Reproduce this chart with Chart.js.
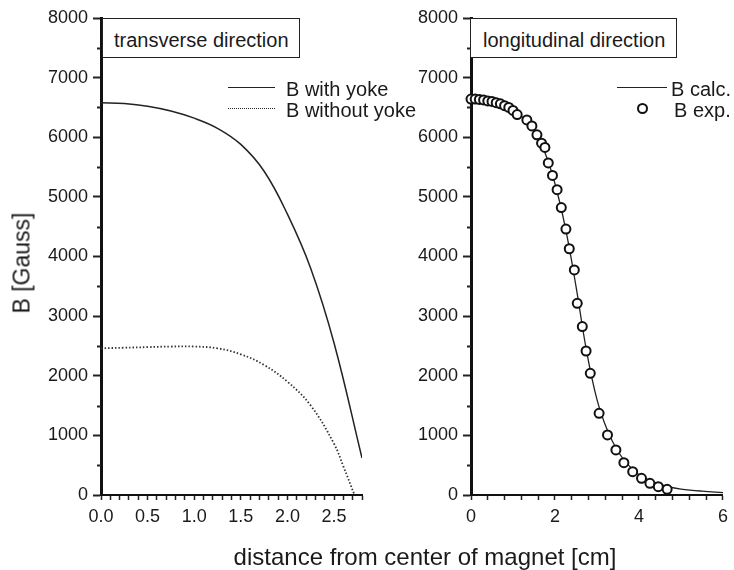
<!DOCTYPE html>
<html>
<head>
<meta charset="utf-8">
<script src="https://cdn.jsdelivr.net/npm/chart.js@4"></script>
<style>
body { margin: 0; background: #fff; }
#wrap { position: relative; width: 734px; height: 570px; overflow: hidden;
        font-family: "Liberation Sans", Arial, sans-serif; color: #1a1a1a; }
canvas { position: absolute; top: 0; }
.t { position: absolute; white-space: nowrap; font-size: 20px; line-height: 20px; }
.box { position: absolute; border: 1.5px solid #222; background: #fff; box-sizing: border-box; }
.ln { position: absolute; height: 0; border-top: 1.5px solid #222; }
</style>
</head>
<body>
<div id="wrap">
  <canvas id="left-chart" width="370" height="570" style="left:0"></canvas>
  <canvas id="right-chart" width="364" height="570" style="left:370px"></canvas>

  <div class="box" style="left:102px;top:18px;width:198px;height:40px"></div>
  <div class="t" style="left:114px;top:30px">transverse direction</div>
  <div class="box" style="left:470px;top:18px;width:207px;height:40px"></div>
  <div class="t" style="left:483px;top:30px">longitudinal direction</div>

  <div class="ln" style="left:228px;top:87px;width:47px"></div>
  <div class="t" style="left:286px;top:79px">B with yoke</div>
  <div class="ln" style="left:228px;top:108px;width:47px;border-top-style:dotted"></div>
  <div class="t" style="left:286px;top:100px">B without yoke</div>

  <div class="ln" style="left:617px;top:87px;width:50px"></div>
  <div class="t" style="left:671px;top:79px">B calc.</div>
  <div style="position:absolute;left:637px;top:103px;width:11px;height:11px;border:2px solid #111;border-radius:50%;box-sizing:border-box"></div>
  <div class="t" style="left:674px;top:100px">B exp.</div>

  <div class="t" style="font-size:23px;line-height:23px;left:22px;top:263px;transform:translate(-50%,-50%) rotate(-90deg)">B [Gauss]</div>
  <div class="t" style="font-size:24px;line-height:24px;left:425px;top:545px;transform:translateX(-50%)">distance from center of magnet [cm]</div>
</div>

<script>
// transverse direction (left panel)
const transX      = [0, 0.25, 0.5, 0.75, 1.0, 1.25, 1.5, 1.75, 2.0, 2.25, 2.5, 2.8];
const withYoke    = [6580, 6565, 6520, 6440, 6320, 6150, 5880, 5430, 4710, 3800, 2550, 620];
const noYokeX     = [0, 0.25, 0.5, 0.75, 1.0, 1.25, 1.5, 1.75, 2.0, 2.25, 2.5, 2.6, 2.72];
const withoutYoke = [2460, 2470, 2480, 2490, 2490, 2460, 2360, 2180, 1900, 1500, 860, 480, 0];

// longitudinal direction (right panel)
const calcX = [0, 0.5, 1.0, 1.25, 1.5, 1.75, 2.0, 2.25, 2.5, 2.75, 3.0, 3.25, 3.5, 3.75, 4.0, 4.25, 4.5, 4.75, 5.0, 5.5, 6.0];
const bCalc = [6650, 6600, 6440, 6320, 6110, 5760, 5220, 4470, 3500, 2420, 1600, 1080, 730, 500, 340, 240, 175, 130, 100, 65, 40];
const expX  = [0, 0.1, 0.2, 0.3, 0.4, 0.5, 0.6, 0.7, 0.8, 0.9, 1.0, 1.1, 1.33, 1.45, 1.57, 1.68, 1.76, 1.84, 1.94, 2.05, 2.15,
               2.26, 2.34, 2.46, 2.53, 2.65, 2.74, 2.84, 3.05, 3.25, 3.45, 3.64, 3.85, 4.06, 4.26, 4.46, 4.67];
const bExp  = [6640, 6640, 6635, 6625, 6610, 6600, 6580, 6560, 6530, 6500, 6450, 6380, 6290, 6190, 6040, 5900, 5830, 5570, 5360, 5120, 4820,
               4460, 4130, 3775, 3215, 2825, 2415, 2040, 1370, 1007, 755, 542, 391, 280, 196, 140, 96];

const leftXLabels  = [0, 0.5, 1.0, 1.5, 2.0, 2.5];
const rightXLabels = [0, 2, 4, 6];

Chart.defaults.font.family = 'Liberation Sans';
Chart.defaults.color = '#1a1a1a';

function pts(xs, ys) {
    return xs.map(function(x, i) { return {x: x, y: ys[i]}; });
}

// short ticks at 500, 1500 ... on the y axis
const minorTicks = {
    id: 'minorTicks',
    afterDraw: function(chart) {
        let ctx = chart.ctx;
        let y = chart.scales.y;
        let left = chart.chartArea.left;
        ctx.save();
        ctx.strokeStyle = '#222';
        ctx.lineWidth = 2;
        for (let v = 500; v < 8000; v += 1000) {
            let py = Math.round(y.getPixelForValue(v)) + 0.5;
            ctx.beginPath();
            ctx.moveTo(left - 4, py);
            ctx.lineTo(left, py);
            ctx.stroke();
        }
        ctx.restore();
    }
};

function xScale(max, step, labels, digits) {
    return {
        type: 'linear', min: 0, max: max,
        afterFit: function(s) { s.height = 75; },
        border: {color: '#111', width: 2},
        grid: {drawOnChartArea: false, tickLength: 5, tickColor: '#222', tickWidth: 1.5},
        ticks: {
            stepSize: step, autoSkip: false, maxRotation: 0, minRotation: 0, padding: 6,
            font: {size: 18},
            callback: function(v) {
                let hit = labels.some(function(l) { return Math.abs(l - v) < 1e-6; });
                return hit ? v.toFixed(digits) : '';
            }
        }
    };
}

function yScale() {
    return {
        type: 'linear', min: 0, max: 8000,
        afterFit: function(s) { s.width = 101; },
        border: {color: '#111', width: 3},
        grid: {drawOnChartArea: false, tickLength: 8, tickColor: '#222', tickWidth: 2},
        ticks: {stepSize: 1000, padding: 5, font: {size: 18}, callback: function(v) { return String(v); }}
    };
}

function baseOptions(padRight, xs) {
    return {
        responsive: false,
        animation: false,
        devicePixelRatio: 1,
        layout: {padding: {top: 18, right: padRight, left: 0, bottom: 0}},
        plugins: {legend: {display: false}, tooltip: {enabled: false}},
        scales: {x: xs, y: yScale()}
    };
}

new Chart(document.getElementById('left-chart'), {
    type: 'scatter',
    data: {
        datasets: [{
            data: pts(transX, withYoke),
            showLine: true, borderColor: '#222', borderWidth: 1.5, pointRadius: 0, tension: 0.4
        }, {
            data: pts(noYokeX, withoutYoke),
            showLine: true, borderColor: '#333', borderWidth: 1.8, borderDash: [1.5, 2], pointRadius: 0, tension: 0.4
        }]
    },
    options: baseOptions(8, xScale(2.8, 0.1, leftXLabels, 1)),
    plugins: [minorTicks]
});

new Chart(document.getElementById('right-chart'), {
    type: 'scatter',
    data: {
        datasets: [{
            data: pts(expX, bExp),
            showLine: false, pointRadius: 4.5, pointBorderWidth: 2,
            pointBorderColor: '#111', pointBackgroundColor: '#fff',
            clip: false, order: 0
        }, {
            data: pts(calcX, bCalc),
            showLine: true, borderColor: '#222', borderWidth: 1.3, pointRadius: 0, tension: 0.4,
            order: 1
        }]
    },
    options: baseOptions(5, xScale(6, 0.4, rightXLabels, 0)),
    plugins: [minorTicks]
});
</script>
</body>
</html>
